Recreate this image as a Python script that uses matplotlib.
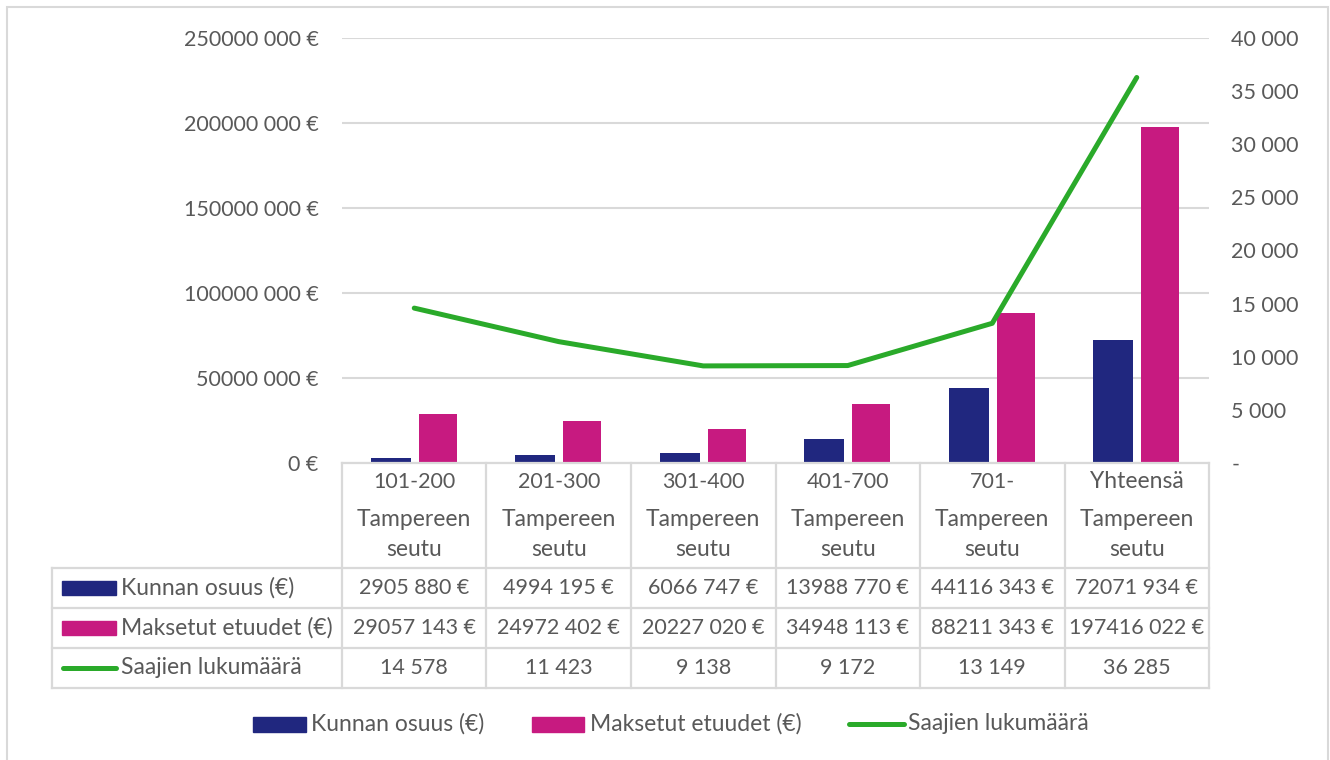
import numpy as np
import matplotlib
matplotlib.use("Agg")
import matplotlib.pyplot as plt
from matplotlib.lines import Line2D
from matplotlib.patches import Rectangle
from matplotlib.ticker import FuncFormatter, MultipleLocator
import matplotlib.transforms as mtransforms

# ---- data ----
categories = ["101-200\nTampereen\nseutu", "201-300\nTampereen\nseutu", "301-400\nTampereen\nseutu",
              "401-700\nTampereen\nseutu", "701-\nTampereen\nseutu", "Yhteensä\nTampereen\nseutu"]
kunnan_osuus = [2905880, 4994195, 6066747, 13988770, 44116343, 72071934]
maksetut_etuudet = [29057143, 24972402, 20227020, 34948113, 88211343, 197416022]
saajien_lukumaara = [14578, 11423, 9138, 9172, 13149, 36285]
series_names = ["Kunnan osuus (€)", "Maksetut etuudet (€)", "Saajien lukumäärä"]

C_BLUE = "#20277F"
C_PINK = "#C71A80"
C_GREEN = "#2AAA2A"
C_TEXT = "#595959"
C_GRID = "#D9D9D9"

plt.rcParams['font.family'] = ['Lato', 'DejaVu Sans']
FS = 15.5      # numbers
FS_T = 16.5    # words

W, H = 1330, 760
fig = plt.figure(figsize=(W / 100, H / 100), dpi=100)


def fx(px):
    return px / W


def fy(py):
    return 1 - py / H


def eur(v):
    v = int(round(v))
    if v < 1000:
        return f"{v} €"
    return f"{v // 1000} {v % 1000:03d} €"


def thou(v):
    v = int(round(v))
    if v == 0:
        return "-"
    if v < 1000:
        return f"{v}"
    return f"{v // 1000} {v % 1000:03d}"


# outer frame (bottom edge lies outside the picture)
fig.add_artist(Rectangle((fx(7), fy(790)), fx(1328) - fx(7), fy(7) - fy(790),
                         transform=fig.transFigure, fill=False, edgecolor=C_GRID, lw=1.5))

L, R, T, B = 342, 1209, 38, 463
ax = fig.add_axes([fx(L), fy(B), fx(R) - fx(L), fy(T) - fy(B)])
x = np.arange(len(categories))
ax.bar(x - 0.163, kunnan_osuus, 0.277, color=C_BLUE, zorder=3)
ax.bar(x + 0.163, maksetut_etuudet, 0.265, color=C_PINK, zorder=3)
ax.set_xlim(-0.5, len(categories) - 0.5)
ax.set_ylim(0, 250e6)
ax.yaxis.set_major_locator(MultipleLocator(50e6))
ax.yaxis.set_major_formatter(FuncFormatter(lambda v, p: eur(v)))
ax.set_xticks([])
ax.grid(axis='y', color=C_GRID, lw=1.5, zorder=0)
ax.tick_params(axis='y', length=0, pad=17, labelsize=FS, labelcolor=C_TEXT)
for s in ax.spines.values():
    s.set_visible(False)

ax2 = ax.twinx()
ax2.plot(x, saajien_lukumaara, color=C_GREEN, lw=3.6, solid_capstyle='round', zorder=4)
ax2.set_ylim(0, 40000)
ax2.yaxis.set_major_locator(MultipleLocator(5000))
ax2.yaxis.set_major_formatter(FuncFormatter(lambda v, p: thou(v)))
ax2.tick_params(axis='y', length=0, pad=16, labelsize=FS, labelcolor=C_TEXT)
for s in ax2.spines.values():
    s.set_visible(False)

# ---- data table ----
bt = mtransforms.blended_transform_factory(ax.transData, fig.transFigure)
lw_t = 1.6
row_lines = [568, 608, 648, 688]
fig.add_artist(Line2D([-0.5, len(categories) - 0.5], [fy(B), fy(B)], transform=bt, color=C_GRID, lw=lw_t))
for yl in row_lines:
    fig.add_artist(Line2D([fx(52), fx(R)], [fy(yl), fy(yl)], transform=fig.transFigure, color=C_GRID, lw=lw_t))
fig.add_artist(Line2D([fx(52), fx(52)], [fy(568), fy(688)], transform=fig.transFigure, color=C_GRID, lw=lw_t))
for i in range(len(categories) + 1):
    fig.add_artist(Line2D([i - 0.5, i - 0.5], [fy(B), fy(688)], transform=bt, color=C_GRID, lw=lw_t))

header_y = [482, 520, 550]
for i, cat in enumerate(categories):
    for j, line in enumerate(cat.split("\n")):
        fig.text(i, fy(header_y[j]), line, transform=bt, ha='center', va='center',
                 fontsize=(FS if j == 0 and line[0].isdigit() else FS_T), color=C_TEXT)

rows = [kunnan_osuus, maksetut_etuudet, saajien_lukumaara]
row_y = [588, 628, 668]
fmts = [eur, eur, thou]
for r, (vals, yy, f) in enumerate(zip(rows, row_y, fmts)):
    for i, v in enumerate(vals):
        fig.text(i, fy(yy), f(v), transform=bt, ha='center', va='center', fontsize=FS, color=C_TEXT)
    fig.text(fx(121), fy(yy), series_names[r], ha='left', va='center', fontsize=FS_T, color=C_TEXT)

# row keys
fig.add_artist(Rectangle((fx(62), fy(595)), fx(116) - fx(62), fy(581) - fy(595),
                         transform=fig.transFigure, color=C_BLUE))
fig.add_artist(Rectangle((fx(62), fy(635)), fx(116) - fx(62), fy(621) - fy(635),
                         transform=fig.transFigure, color=C_PINK))
fig.add_artist(Line2D([fx(63), fx(116)], [fy(668), fy(668)], transform=fig.transFigure,
                      color=C_GREEN, lw=3.6, solid_capstyle='round'))

# ---- legend (bottom) ----
LY = 724
fig.add_artist(Rectangle((fx(253), fy(732)), fx(306) - fx(253), fy(717) - fy(732),
                         transform=fig.transFigure, color=C_BLUE))
fig.text(fx(311), fy(LY), series_names[0], ha='left', va='center', fontsize=FS_T, color=C_TEXT)
fig.add_artist(Rectangle((fx(532), fy(732)), fx(584) - fx(532), fy(717) - fy(732),
                         transform=fig.transFigure, color=C_PINK))
fig.text(fx(590), fy(LY), series_names[1], ha='left', va='center', fontsize=FS_T, color=C_TEXT)
fig.add_artist(Line2D([fx(849), fx(904)], [fy(LY), fy(LY)], transform=fig.transFigure,
                      color=C_GREEN, lw=3.6, solid_capstyle='round'))
fig.text(fx(908), fy(LY), series_names[2], ha='left', va='center', fontsize=FS_T, color=C_TEXT)

fig.savefig("out.png", dpi=100, facecolor='white')
